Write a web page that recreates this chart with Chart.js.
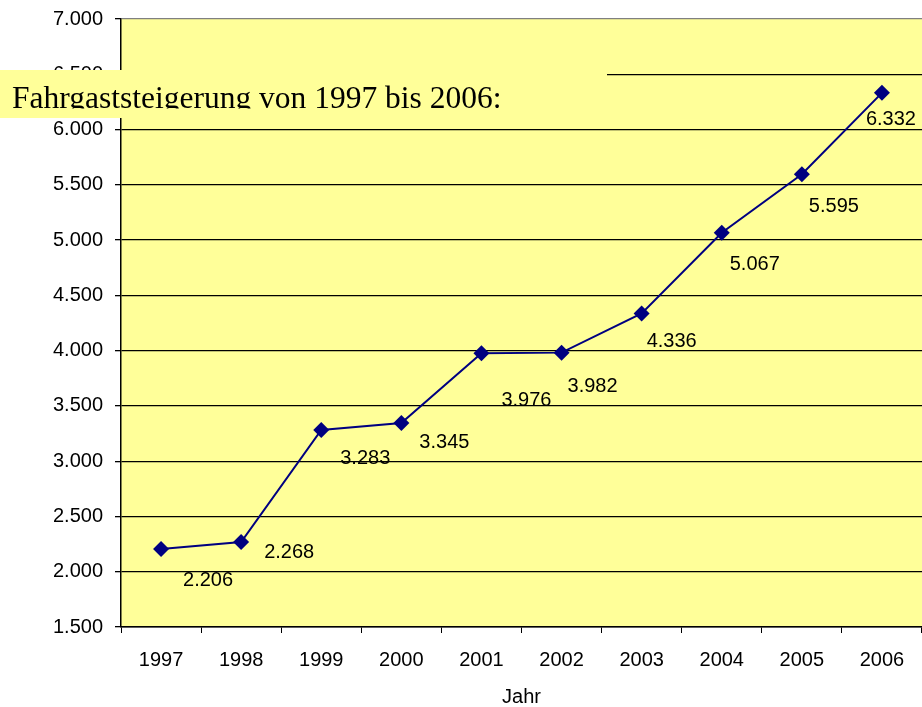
<!DOCTYPE html>
<html>
<head>
<meta charset="utf-8">
<script src="https://cdn.jsdelivr.net/npm/chart.js@4"></script>
<style>
  body { margin: 0; background: #fff; }
  #wrap { width: 922px; height: 707px; }
</style>
</head>
<body>
<div id="wrap"><canvas id="fahrgastChart" width="922" height="707"></canvas></div>
<script>
// Daten
const jahre = ['1997', '1998', '1999', '2000', '2001', '2002', '2003', '2004', '2005', '2006'];
const fahrgaeste = [2206, 2268, 3283, 3345, 3976, 3982, 4336, 5067, 5595, 6332];
const yTicks = [1500, 2000, 2500, 3000, 3500, 4000, 4500, 5000, 5500, 6000, 6500, 7000];
const ueberschrift = 'Fahrgaststeigerung von 1997 bis 2006:';
const achsenTitel = 'Jahr';

// Versatz der Datenbeschriftungen (px) relativ zum Punkt
const labelOffsets = [[47, 32], [48, 10], [44, 29], [43, 19], [45, 47], [31, 34], [30, 28], [33, 32], [32, 32], [9, 27]];

const FONT = "'Liberation Sans', Arial, sans-serif";

function fmt(v) {
    return String(Math.round(v)).replace(/\B(?=(\d{3})+(?!\d))/g, '.');
}

// Gelber Hintergrund der Zeichenfläche
const plotBackground = {
    id: 'plotBackground',
    beforeDraw(chart) {
        const { ctx, chartArea: a } = chart;
        ctx.save();
        ctx.fillStyle = '#FFFF99';
        ctx.fillRect(a.left, a.top, a.right - a.left, a.bottom - a.top);
        ctx.restore();
    }
};

// Werte an den Punkten
const dataLabels = {
    id: 'dataLabels',
    afterDatasetsDraw(chart) {
        const { ctx } = chart;
        const meta = chart.getDatasetMeta(0);
        ctx.save();
        ctx.font = '20px ' + FONT;
        ctx.fillStyle = '#000';
        ctx.textAlign = 'center';
        ctx.textBaseline = 'middle';
        meta.data.forEach((pt, i) => {
            const off = labelOffsets[i];
            ctx.fillText(fmt(fahrgaeste[i]), pt.x + off[0], pt.y + off[1]);
        });
        ctx.restore();
    }
};

// Textfeld oben links
const textBox = {
    id: 'textBox',
    afterDraw(chart) {
        const { ctx } = chart;
        ctx.save();
        ctx.fillStyle = '#FFFF99';
        ctx.fillRect(0, 70, 607, 48);
        ctx.beginPath();
        ctx.rect(0, 70, 607, 38.5);
        ctx.clip();
        ctx.font = "31.5px 'Liberation Serif', 'Times New Roman', serif";
        ctx.fillStyle = '#000';
        ctx.textBaseline = 'alphabetic';
        ctx.fillText(ueberschrift, 12, 107.5);
        ctx.restore();
    }
};

const ctx = document.getElementById('fahrgastChart').getContext('2d');
const fahrgastChart = new Chart(ctx, {
    type: 'line',
    data: {
        labels: jahre,
        datasets: [{
            data: fahrgaeste,
            borderColor: '#000080',
            backgroundColor: '#000080',
            borderWidth: 2,
            pointStyle: 'rectRot',
            pointRadius: 8,
            pointBorderWidth: 0,
            tension: 0,
            clip: false
        }]
    },
    options: {
        responsive: false,
        animation: false,
        layout: { autoPadding: false, padding: { top: 19, left: 0, right: 0, bottom: 0 } },
        plugins: {
            legend: { display: false },
            tooltip: { enabled: false }
        },
        scales: {
            x: {
                offset: true,
                afterFit(scale) {
                    scale.height = 80;
                    scale.paddingLeft = 0;
                    scale.paddingRight = 0;
                },
                grid: {
                    offset: true,
                    drawOnChartArea: false,
                    drawTicks: true,
                    tickLength: 6,
                    color: '#000'
                },
                border: { color: '#000', width: 1.5 },
                ticks: {
                    color: '#000',
                    font: { family: FONT, size: 20 },
                    padding: 15,
                    maxRotation: 0
                },
                title: {
                    display: true,
                    text: achsenTitel,
                    color: '#000',
                    font: { family: FONT, size: 20 },
                    padding: { top: 0, bottom: -2 }
                }
            },
            y: {
                min: yTicks[0],
                max: yTicks[yTicks.length - 1],
                afterFit(scale) {
                    scale.width = 121;
                    scale.paddingTop = 0;
                    scale.paddingBottom = 0;
                },
                afterBuildTicks(scale) {
                    scale.ticks = yTicks.map(v => ({ value: v }));
                },
                grid: {
                    color: ctx => ctx.tick && ctx.tick.value === 7000 ? '#808080' : '#000',
                    lineWidth: 1.3,
                    tickLength: 6,
                    tickColor: '#000'
                },
                border: { color: '#000', width: 1.5 },
                ticks: {
                    color: '#000',
                    font: { family: FONT, size: 20 },
                    padding: 12,
                    callback: v => fmt(v)
                }
            }
        }
    },
    plugins: [plotBackground, dataLabels, textBox]
});
</script>
</body>
</html>
